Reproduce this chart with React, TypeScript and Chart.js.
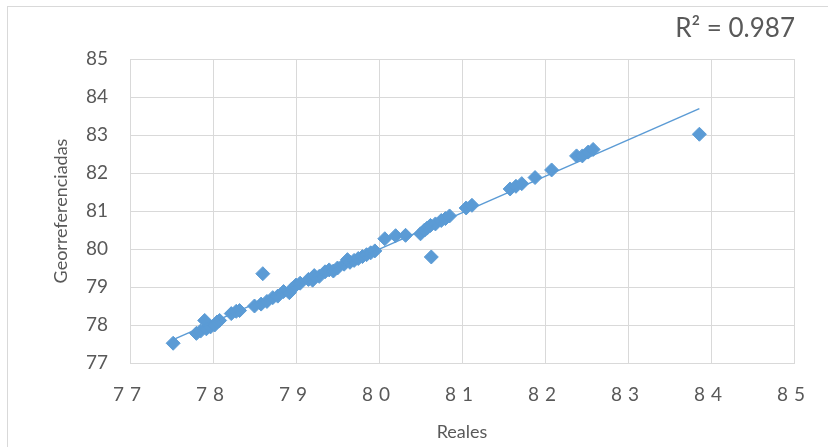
import { useEffect, useRef } from 'react';
import { Chart, registerables } from 'chart.js';

Chart.register(...registerables);

// Reales (x) and Georreferenciadas (y) values
const realesX = [
  77.52, 77.8, 77.85, 77.9, 77.92, 77.97, 78.02, 78.05, 78.08, 78.22,
  78.28, 78.32, 78.5, 78.58, 78.6, 78.65, 78.72, 78.78, 78.85, 78.92,
  78.95, 79.0, 79.05, 79.15, 79.2, 79.22, 79.28, 79.35, 79.4, 79.45,
  79.5, 79.58, 79.62, 79.65, 79.7, 79.75, 79.8, 79.85, 79.9, 79.95,
  80.07, 80.2, 80.32, 80.5, 80.55, 80.58, 80.62, 80.63, 80.68, 80.75,
  80.8, 80.85, 81.05, 81.12, 81.58, 81.65, 81.72, 81.88, 82.08, 82.38,
  82.45, 82.52, 82.58, 83.86,
];
const georrefY = [
  77.52, 77.78, 77.84, 78.12, 77.9, 77.95, 78.0, 78.08, 78.12, 78.3,
  78.36, 78.38, 78.5, 78.55, 79.35, 78.62, 78.72, 78.76, 78.88, 78.85,
  78.95, 79.05, 79.1, 79.2, 79.18, 79.3, 79.28, 79.4, 79.45, 79.42,
  79.5, 79.6, 79.72, 79.65, 79.7, 79.75, 79.8, 79.85, 79.9, 79.95,
  80.27, 80.35, 80.36, 80.4, 80.5, 80.55, 80.62, 79.79, 80.66, 80.75,
  80.8, 80.87, 81.08, 81.15, 81.58, 81.65, 81.72, 81.88, 82.08, 82.45,
  82.45, 82.55, 82.62, 83.02,
];
const axisMin = 77;
const axisMax = 85;
const xTitle = 'Reales';
const yTitle = 'Georreferenciadas';
const r2Label = 'R² = 0.987';

const FONT = 'Lato';
const TEXT = '#595959';
const GRID = '#D9D9D9';
const BLUE = '#5B9BD5';

export default function App() {
  const ref = useRef<HTMLCanvasElement>(null);

  useEffect(() => {
    const pts = realesX.map((x, i) => ({ x, y: georrefY[i] }));
    const n = realesX.length;
    const mx = realesX.reduce((a, b) => a + b, 0) / n;
    const my = georrefY.reduce((a, b) => a + b, 0) / n;
    let sxy = 0;
    let sxx = 0;
    for (let i = 0; i < n; i++) {
      sxy += (realesX[i] - mx) * (georrefY[i] - my);
      sxx += (realesX[i] - mx) ** 2;
    }
    const slope = sxy / sxx;
    const icpt = my - slope * mx;
    const xmin = Math.min(...realesX);
    const xmax = Math.max(...realesX);
    const trend = [
      { x: xmin, y: icpt + slope * xmin },
      { x: xmax, y: icpt + slope * xmax },
    ];

    const decor = {
      id: 'decor',
      beforeDraw(chart: any) {
        const ctx = chart.ctx;
        ctx.save();
        ctx.strokeStyle = GRID;
        ctx.lineWidth = 1;
        ctx.strokeRect(7.5, 6.5, 840, 460);
        ctx.restore();
        const s: any = chart.scales.x;
        if (s && !s.__spaced) {
          const orig = s.drawLabels;
          s.drawLabels = function (area: any) {
            const c = this.ctx;
            c.save();
            c.letterSpacing = '6px';
            orig.call(this, area);
            c.restore();
          };
          s.__spaced = true;
        }
      },
      afterDraw(chart: any) {
        const ctx = chart.ctx;
        ctx.save();
        ctx.font = `26px ${FONT}`;
        ctx.fillStyle = TEXT;
        ctx.textAlign = 'right';
        ctx.textBaseline = 'middle';
        ctx.fillText(r2Label, 795, 29);
        ctx.restore();
      },
    };

    const chart = new Chart(ref.current!, {
      type: 'scatter',
      data: {
        datasets: [
          {
            type: 'line',
            label: 'Lineal',
            data: trend,
            borderColor: BLUE,
            borderWidth: 1.5,
            pointRadius: 0,
            fill: false,
            order: 0,
          } as any,
          {
            label: yTitle,
            data: pts,
            pointStyle: 'rectRot',
            pointRadius: 7,
            backgroundColor: BLUE,
            borderColor: BLUE,
            borderWidth: 1,
            order: 1,
          },
        ],
      },
      options: {
        animation: false,
        responsive: true,
        maintainAspectRatio: false,
        layout: { padding: { left: 50, top: 59, right: 34, bottom: 0 } },
        plugins: { legend: { display: false }, tooltip: { enabled: false } },
        scales: {
          x: {
            type: 'linear',
            min: axisMin,
            max: axisMax,
            ticks: { stepSize: 1, color: TEXT, font: { family: FONT, size: 19 }, padding: 20 },
            grid: { color: GRID, drawTicks: false },
            border: { color: GRID },
            title: { display: true, text: xTitle, color: TEXT, font: { family: FONT, size: 18 }, padding: { top: 6 } },
            afterFit: (s: any) => { s.height = 84; },
          },
          y: {
            type: 'linear',
            min: axisMin,
            max: axisMax,
            ticks: { stepSize: 1, color: TEXT, font: { family: FONT, size: 19 }, padding: 22 },
            grid: { color: GRID, drawTicks: false },
            border: { color: GRID },
            title: { display: true, text: yTitle, color: TEXT, font: { family: FONT, size: 18 }, padding: 0 },
            afterFit: (s: any) => { s.width = 80; },
          },
        },
      },
      plugins: [decor],
    });
    return () => chart.destroy();
  }, []);

  return (
    <div style={{ position: 'fixed', left: 0, top: 0, width: 828, height: 447, background: '#fff' }}>
      <canvas ref={ref} />
    </div>
  );
}
